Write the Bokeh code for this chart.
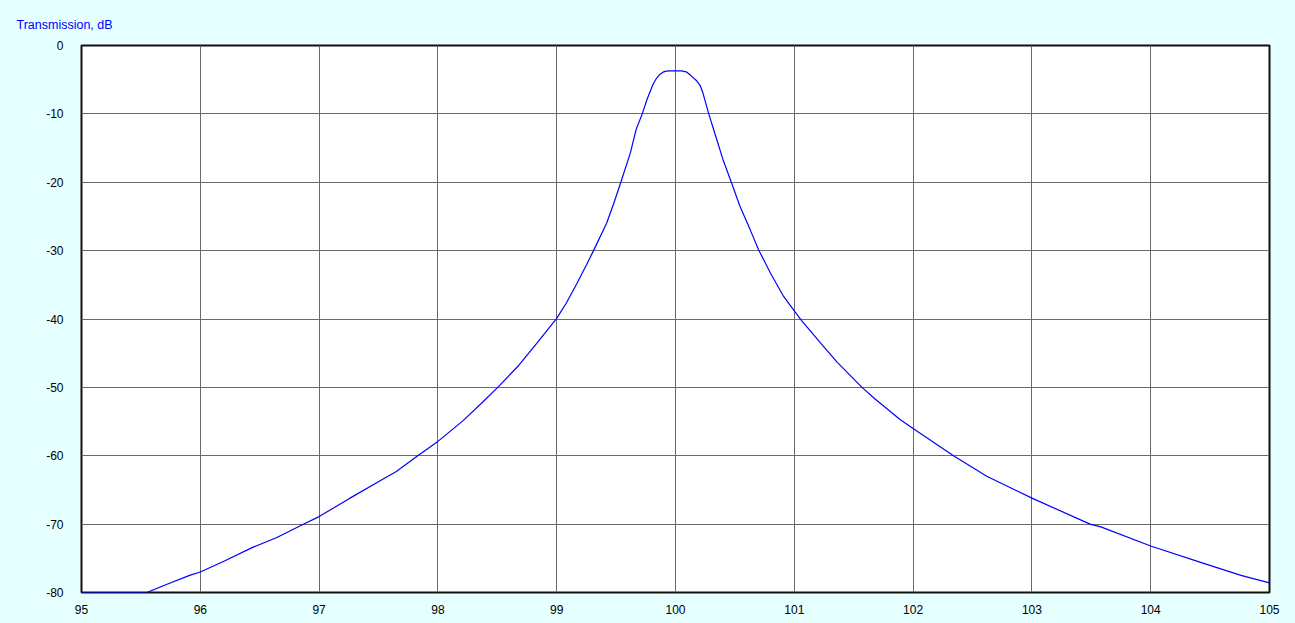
from bokeh.plotting import figure
from bokeh.models import FixedTicker, Range1d, ColumnDataSource
from bokeh.embed import file_html
from bokeh.resources import INLINE

# Frequency (x) and transmission in dB (y)
freq = [95.0, 95.55, 95.72, 95.91, 96.0, 96.19, 96.44, 96.64, 96.88, 97.0,
        97.26, 97.51, 97.65, 97.83, 98.0, 98.21, 98.38, 98.51, 98.68, 98.83,
        99.0, 99.08, 99.17, 99.25, 99.31, 99.42, 99.48, 99.54, 99.62, 99.67,
        99.72, 99.76, 99.81, 99.84, 99.87, 99.895, 99.92, 99.96, 100.0, 100.05,
        100.09, 100.13, 100.18, 100.21, 100.23, 100.28,
        100.33, 100.40, 100.47, 100.54, 100.63, 100.70, 100.80, 100.91, 101.0, 101.06,
        101.22, 101.36, 101.57, 101.68, 101.89, 102.0, 102.34, 102.62, 103.0, 103.49,
        103.58, 104.0, 104.42, 104.76, 105.0]
transmission_db = [-80.0, -80.0, -78.8, -77.5, -77.0, -75.5, -73.4, -72.0, -69.9, -68.9,
                   -66.2, -63.7, -62.3, -60.0, -57.9, -54.9, -52.1, -49.9, -46.8, -43.6,
                   -39.9, -37.7, -34.8, -32.1, -30.0, -26.0, -23.1, -20.0, -15.7, -12.2,
                   -10.0, -7.9, -5.7, -4.8, -4.2, -3.9, -3.75, -3.7, -3.7, -3.72,
                   -3.85, -4.4, -5.2, -5.95, -6.9, -10.0,
                   -12.8, -16.7, -20.0, -23.4, -27.0, -29.9, -33.3, -36.7, -38.8, -40.2,
                   -43.5, -46.3, -50.0, -51.7, -54.7, -56.0, -60.0, -63.0, -66.2, -70.0,
                   -70.4, -73.2, -75.6, -77.5, -78.6]

x_ticks = [95, 96, 97, 98, 99, 100, 101, 102, 103, 104, 105]
y_ticks = [0, -10, -20, -30, -40, -50, -60, -70, -80]
title_text = "Transmission, dB"

BG = "#E6FFFF"
GRID = "#6A6A6A"
FONT = "Liberation Sans"

p = figure(width=1295, height=623, output_backend="svg", toolbar_location=None,
           x_range=Range1d(95, 105), y_range=Range1d(-80, 0),
           min_border_left=81, min_border_right=26, min_border_top=45, min_border_bottom=31)

p.background_fill_color = "white"
p.border_fill_color = BG
p.outline_line_color = "#101010"
p.outline_line_width = 2

p.title.text = title_text
p.title.text_color = "#0000FF"
p.title.text_font = FONT
p.title.text_font_size = "12.5px"
p.title.text_font_style = "normal"
p.title.align = "left"
p.title.offset = -65
p.title.standoff = 28

src = ColumnDataSource(dict(x=freq, y=transmission_db))
p.line("x", "y", source=src, line_color="#0000FF", line_width=1.2)

p.xaxis.ticker = FixedTicker(ticks=x_ticks)
p.yaxis.ticker = FixedTicker(ticks=y_ticks)
p.xaxis.major_label_overrides = {t: str(t) for t in x_ticks}
p.yaxis.major_label_overrides = {t: str(t) for t in y_ticks}
for ax in (p.xaxis, p.yaxis):
    ax.axis_line_color = None
    ax.major_tick_line_color = None
    ax.minor_tick_line_color = None
    ax.major_label_text_font = FONT
    ax.major_label_text_font_size = "12px"
    ax.major_label_text_color = "black"
p.xaxis.major_label_standoff = 6
p.yaxis.major_label_standoff = 12

p.xgrid.ticker = FixedTicker(ticks=x_ticks)
p.ygrid.ticker = FixedTicker(ticks=y_ticks)
for g in (p.xgrid, p.ygrid):
    g.grid_line_color = GRID
    g.grid_line_width = 1

html = file_html(p, INLINE)
html = html.replace("<head>", "<head><style>html, body { background: %s; }</style>" % BG, 1)
open("out.html", "w").write(html)
